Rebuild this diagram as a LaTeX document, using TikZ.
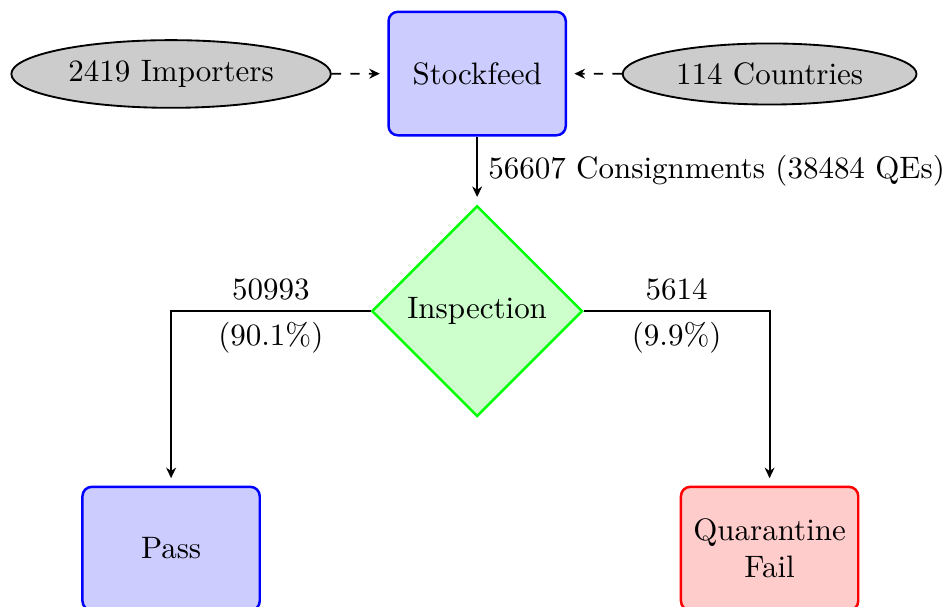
\documentclass[tikz,border=0pt]{standalone}
\usepackage{tikz}
\usetikzlibrary{shapes.geometric, arrows.meta, positioning}

\begin{document}
\begin{tikzpicture}[
        every node/.style={align=center},
        block/.style={rectangle, rounded corners=3pt, thick, minimum width=2.01cm, minimum height=1.40cm},
        bluebox/.style={block, draw=blue, fill=blue!20},
        redbox/.style={block, draw=red, fill=red!20},
        source/.style={ellipse, draw=black, fill=gray!40, semithick},
        decision/.style={diamond, draw=green, fill=green!20, thick, aspect=1, inner sep=0pt, minimum width=2.39cm, minimum height=2.39cm},
        arr/.style={-{Stealth[length=3.4pt, width=3.2pt]}, semithick, shorten >=2.4pt},
        darr/.style={arr, dashed}
    ]
        \useasboundingbox (0,0) rectangle (10.76,-6.88);

        % Top row: sources + stockfeed
        \node[bluebox] (stock) at (5.41,-0.834) {Stockfeed};
        \node[source] (imp) at (1.94,-0.839) {2419 Importers};
        \node[source] (ctry) at (8.726,-0.839) {114 Countries};

        \draw[darr] (imp) -- (stock);
        \draw[darr] (ctry) -- (stock);

        % Inspection and outcomes
        \node[decision] (insp) at (5.41,-3.527) {Inspection};
        \node[bluebox] (pass) at (1.94,-6.22) {Pass};
        \node[redbox] (fail) at (8.726,-6.22) {Quarantine\\Fail};

        \draw[arr] (stock) -- node[right]{56607 Consignments (38484 QEs)} (insp);
        \draw[arr] (insp.west) -| node[pos=0.25, above]{50993} node[pos=0.25, below]{(90.1\%)} (pass.north);
        \draw[arr] (insp.east) -| node[pos=0.25, above]{5614} node[pos=0.25, below]{(9.9\%)} (fail.north);
    \end{tikzpicture}
\end{document}
